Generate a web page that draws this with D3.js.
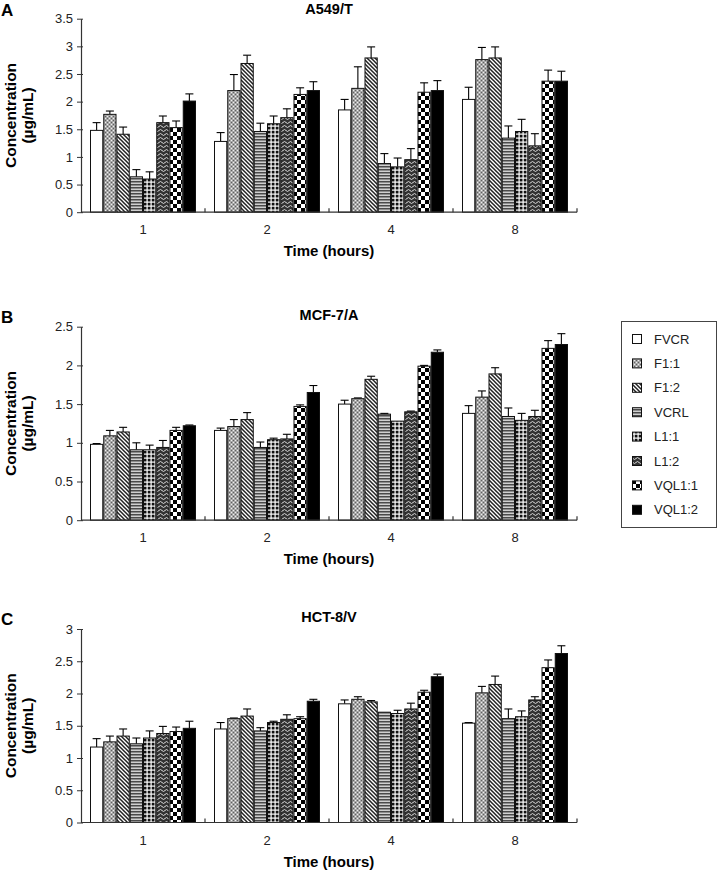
<!DOCTYPE html>
<html>
<head>
<meta charset="utf-8">
<script src="https://cdn.jsdelivr.net/npm/d3@7"></script>
<style>
  html, body { margin: 0; padding: 0; background: #fff; }
  svg { display: block; font-family: "Liberation Sans", Arial, sans-serif; }
</style>
</head>
<body>
<svg id="chart" width="718" height="873"></svg>
<script>
// ---------- data ----------
const times = ["1", "2", "4", "8"];
const seriesNames = ["FVCR", "F1:1", "F1:2", "VCRL", "L1:1", "L1:2", "VQL1:1", "VQL1:2"];

// Panel A: A549/T  (rows = time, columns = series)
const a549Values = [
  [1.48, 1.77, 1.41, 0.64, 0.60, 1.62, 1.53, 2.01],
  [1.28, 2.20, 2.69, 1.46, 1.60, 1.71, 2.13, 2.20],
  [1.85, 2.24, 2.79, 0.88, 0.82, 0.95, 2.17, 2.20],
  [2.04, 2.76, 2.79, 1.34, 1.46, 1.20, 2.37, 2.37]
];
const a549Errors = [
  [0.14, 0.06, 0.13, 0.13, 0.13, 0.12, 0.12, 0.13],
  [0.16, 0.29, 0.15, 0.15, 0.14, 0.16, 0.12, 0.16],
  [0.19, 0.39, 0.20, 0.18, 0.16, 0.20, 0.17, 0.18],
  [0.22, 0.22, 0.20, 0.22, 0.22, 0.22, 0.20, 0.18]
];

// Panel B: MCF-7/A
const mcf7Values = [
  [0.98, 1.09, 1.14, 0.91, 0.91, 0.94, 1.16, 1.22],
  [1.16, 1.21, 1.30, 0.94, 1.04, 1.05, 1.47, 1.65],
  [1.50, 1.57, 1.82, 1.37, 1.28, 1.40, 1.99, 2.17],
  [1.38, 1.59, 1.89, 1.34, 1.29, 1.34, 2.22, 2.27]
];
const mcf7Errors = [
  [0.01, 0.07, 0.06, 0.09, 0.06, 0.09, 0.04, 0.01],
  [0.03, 0.09, 0.09, 0.07, 0.02, 0.06, 0.02, 0.09],
  [0.05, 0.01, 0.04, 0.01, 0.00, 0.01, 0.01, 0.03],
  [0.10, 0.08, 0.08, 0.11, 0.09, 0.08, 0.10, 0.14]
];

// Panel C: HCT-8/V
const hct8Values = [
  [1.17, 1.25, 1.34, 1.22, 1.31, 1.38, 1.41, 1.46],
  [1.45, 1.61, 1.65, 1.42, 1.55, 1.60, 1.61, 1.88],
  [1.84, 1.91, 1.87, 1.71, 1.69, 1.76, 2.02, 2.26],
  [1.54, 2.01, 2.14, 1.61, 1.64, 1.90, 2.40, 2.62]
];
const hct8Errors = [
  [0.13, 0.09, 0.11, 0.09, 0.11, 0.11, 0.07, 0.11],
  [0.10, 0.01, 0.11, 0.05, 0.02, 0.07, 0.03, 0.03],
  [0.06, 0.04, 0.02, 0.00, 0.05, 0.09, 0.03, 0.04],
  [0.01, 0.10, 0.13, 0.15, 0.09, 0.05, 0.12, 0.12]
];

const panelLetters = ["A", "B", "C"];
const panelTitles = ["A549/T", "MCF-7/A", "HCT-8/V"];
const panelYMax = [3.5, 2.5, 3];
const yTickStep = 0.5;
const xAxisTitle = "Time (hours)";
const yAxisTitle = ["Concentration", "(µg/mL)"];

// ---------- drawing ----------
const svg = d3.select("#chart");
const defs = svg.append("defs");

function pat(id, w, h, build) {
  const p = defs.append("pattern").attr("id", id)
    .attr("patternUnits", "userSpaceOnUse").attr("width", w).attr("height", h);
  build(p);
}
// F1:1 stipple
pat("p1", 4, 4, p => {
  p.append("rect").attr("width", 4).attr("height", 4).attr("fill", "#a8a8a8");
  p.append("rect").attr("x", 0).attr("y", 0).attr("width", 1).attr("height", 1).attr("fill", "#606060");
  p.append("rect").attr("x", 2).attr("y", 2).attr("width", 1).attr("height", 1).attr("fill", "#606060");
  p.append("rect").attr("x", 2).attr("y", 0).attr("width", 1).attr("height", 1).attr("fill", "#eeeeee");
  p.append("rect").attr("x", 0).attr("y", 2).attr("width", 1).attr("height", 1).attr("fill", "#eeeeee");
});
// F1:2 diagonal "\"
pat("p2", 4, 4, p => {
  p.append("rect").attr("width", 4).attr("height", 4).attr("fill", "#fff");
  p.append("path").attr("d", "M-1,-1 L5,5 M-1,3 L1,5 M3,-1 L5,1")
    .attr("stroke", "#222").attr("stroke-width", 1.5);
});
// VCRL horizontal lines
pat("p3", 4, 3, p => {
  p.append("rect").attr("width", 4).attr("height", 3).attr("fill", "#cfcfcf");
  p.append("rect").attr("y", 1).attr("width", 4).attr("height", 1.5).attr("fill", "#4a4a4a");
});
// L1:1 grid
pat("p4", 4, 4, p => {
  p.append("rect").attr("width", 4).attr("height", 4).attr("fill", "#111");
  p.append("rect").attr("x", 1.5).attr("width", 1.2).attr("height", 4).attr("fill", "#fff");
  p.append("rect").attr("y", 1.5).attr("width", 4).attr("height", 1.2).attr("fill", "#fff");
});
// L1:2 waves
pat("p5", 6, 4, p => {
  p.append("rect").attr("width", 6).attr("height", 4).attr("fill", "#333");
  p.append("path").attr("d", "M0,2.5 Q1.5,0.5 3,2.5 T6,2.5")
    .attr("fill", "none").attr("stroke", "#d8d8d8").attr("stroke-width", 1);
});
// VQL1:1 checkerboard
pat("p6", 8, 8, p => {
  p.append("rect").attr("width", 8).attr("height", 8).attr("fill", "#fff");
  p.append("rect").attr("width", 4).attr("height", 4).attr("fill", "#000");
  p.append("rect").attr("x", 4).attr("y", 4).attr("width", 4).attr("height", 4).attr("fill", "#000");
});

const fills = ["#fff", "url(#p1)", "url(#p2)", "url(#p3)", "url(#p4)", "url(#p5)", "url(#p6)", "#000"];
const color = d3.scaleOrdinal().domain(seriesNames).range(fills);

const panelsData = [
  { values: a549Values, errors: a549Errors },
  { values: mcf7Values, errors: mcf7Errors },
  { values: hct8Values, errors: hct8Errors }
];

const plotLeft = 81, plotRight = 577;
const panelTop = [18.7, 326.7, 629];
const plotH = 193.5;

const x0 = d3.scaleBand().domain(times).range([plotLeft, plotRight]).padding(0);
const x1 = d3.scaleBand().domain(seriesNames).range([9, x0.bandwidth() - 9]).padding(0);

panelsData.forEach((pd, pi) => {
  const top = panelTop[pi], bottom = top + plotH;
  const y = d3.scaleLinear().domain([0, panelYMax[pi]]).range([bottom, top]);
  const g = svg.append("g");

  // bars
  times.forEach((t, ti) => {
    const gg = g.append("g").attr("transform", `translate(${x0(t)},0)`);
    seriesNames.forEach((s, si) => {
      const v = pd.values[ti][si], e = pd.errors[ti][si];
      const bx = x1(s), bw = x1.bandwidth();
      const cx = bx + bw / 2;
      if (e > 0) {
        gg.append("line").attr("x1", cx).attr("x2", cx)
          .attr("y1", y(v)).attr("y2", y(v + e))
          .attr("stroke", "#000").attr("stroke-width", 1.1);
        gg.append("line").attr("x1", cx - 4).attr("x2", cx + 4)
          .attr("y1", y(v + e)).attr("y2", y(v + e))
          .attr("stroke", "#000").attr("stroke-width", 1.1);
      }
      gg.append("rect").attr("x", bx + 0.5).attr("y", y(v))
        .attr("width", bw - 1).attr("height", y(0) - y(v))
        .attr("fill", color(s)).attr("stroke", "#111").attr("stroke-width", 1);
    });
  });

  // y axis
  const yAxis = d3.axisLeft(y)
    .tickValues(d3.range(0, panelYMax[pi] + 1e-6, yTickStep))
    .tickFormat(d3.format("~g"))
    .tickSizeInner(4).tickSizeOuter(0).tickPadding(4);
  const ya = g.append("g").attr("transform", `translate(${plotLeft},0)`).call(yAxis);
  ya.select(".domain").attr("stroke", "#333").attr("stroke-width", 1.2);
  ya.selectAll(".tick line").attr("stroke", "#333").attr("x2", -4).attr("x1", 2);
  ya.selectAll(".tick text").attr("font-size", 13).attr("fill", "#222")
    .attr("font-family", "'Liberation Sans', Arial, sans-serif");

  // x axis line + group boundary ticks (upward)
  g.append("line").attr("x1", plotLeft).attr("x2", plotRight)
    .attr("y1", bottom).attr("y2", bottom).attr("stroke", "#333").attr("stroke-width", 1.2);
  times.forEach(t => {
    const bx = x0(t) + x0.bandwidth();
    g.append("line").attr("x1", bx).attr("x2", bx)
      .attr("y1", bottom).attr("y2", bottom - 4).attr("stroke", "#333").attr("stroke-width", 1.2);
  });
  // x tick labels
  g.selectAll(".xl").data(times).join("text")
    .attr("x", d => x0(d) + x0.bandwidth() / 2)
    .attr("y", bottom + 22).attr("text-anchor", "middle")
    .attr("font-size", 13).attr("fill", "#222").text(d => d);
  // x title
  g.append("text").attr("x", (plotLeft + plotRight) / 2).attr("y", bottom + 44)
    .attr("text-anchor", "middle").attr("font-size", 15).attr("font-weight", "bold")
    .text(xAxisTitle);
  // y title
  const cy = (top + bottom) / 2;
  g.append("text").attr("transform", `translate(15.5,${cy}) rotate(-90)`)
    .attr("text-anchor", "middle").attr("font-size", 15.5).attr("font-weight", "bold")
    .text(yAxisTitle[0]);
  g.append("text").attr("transform", `translate(33,${cy}) rotate(-90)`)
    .attr("text-anchor", "middle").attr("font-size", 15.5).attr("font-weight", "bold")
    .text(yAxisTitle[1]);
  // panel title
  g.append("text").attr("x", (plotLeft + plotRight) / 2).attr("y", Math.max(top - 7, 14))
    .attr("text-anchor", "middle").attr("font-size", 14.5).attr("font-weight", "bold")
    .text(panelTitles[pi]);
  // panel letter
  g.append("text").attr("x", 1).attr("y", Math.max(top - 4, 16))
    .attr("font-size", 17).attr("font-weight", "bold").text(panelLetters[pi]);
});

// legend
const lg = svg.append("g");
lg.append("rect").attr("x", 621.5).attr("y", 321.5).attr("width", 95).attr("height", 206)
  .attr("fill", "#fff").attr("stroke", "#444").attr("stroke-width", 1);
seriesNames.forEach((s, i) => {
  const cy = 339 + i * 24.4;
  lg.append("rect").attr("x", 632.5).attr("y", cy - 4.5).attr("width", 9).attr("height", 9)
    .attr("fill", color(s)).attr("stroke", "#111").attr("stroke-width", 1);
  lg.append("text").attr("x", 654).attr("y", cy + 4.5).attr("font-size", 13)
    .attr("fill", "#222").text(s);
});
</script>
</body>
</html>
